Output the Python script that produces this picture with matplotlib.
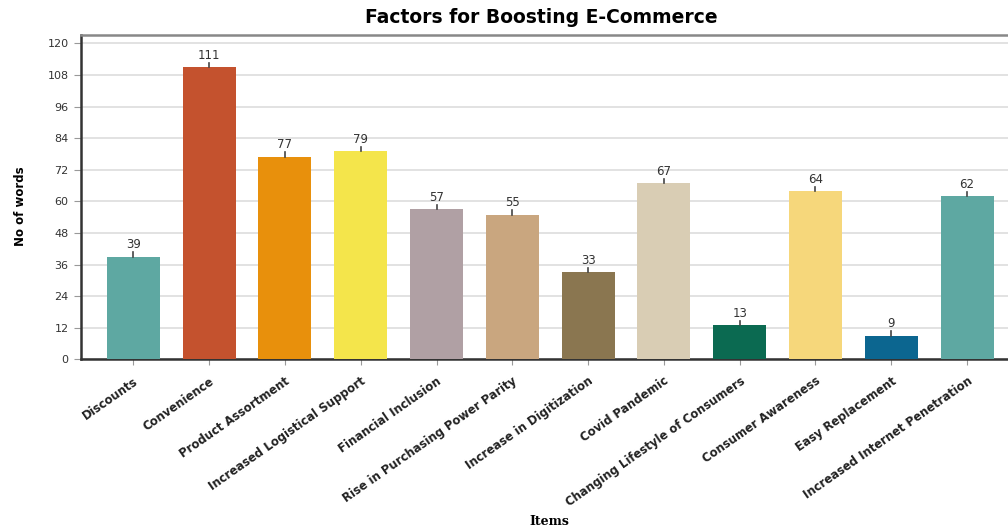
import matplotlib.pyplot as plt

# Word counts per factor
items = ["Discounts", "Convenience", "Product Assortment", "Increased Logistical Support",
         "Financial Inclusion", "Rise in Purchasing Power Parity", "Increase in Digitization",
         "Covid Pandemic", "Changing Lifestyle of Consumers", "Consumer Awareness",
         "Easy Replacement", "Increased Internet Penetration"]
counts = [39, 111, 77, 79, 57, 55, 33, 67, 13, 64, 9, 62]
colors = ["#5ea8a2", "#c4522e", "#e8900c", "#f4e54b", "#b0a0a4", "#c9a67f",
          "#8a7650", "#d9cdb4", "#0b6a51", "#f6d77b", "#0c6690", "#5ea8a2"]
yticks = list(range(0, 121, 12))

fig = plt.figure(figsize=(10.08, 5.29), dpi=100)
ax = fig.add_axes([0.0804, 0.3208, 0.9196, 0.6130])

x = list(range(len(items)))
ax.bar(x, counts, width=0.70, color=colors, zorder=3)

# little stem + value above each bar
for xi, c in zip(x, counts):
    ax.plot([xi, xi], [c, c + 1.6], color="#444444", lw=1.2, zorder=4)
    ax.text(xi, c + 2.0, str(c), ha="center", va="bottom", fontsize=8.5,
            color="#333333", zorder=5)

ax.set_xlim(-0.69, 11.54)
ax.set_ylim(0, 123.2)
ax.set_yticks(yticks)
ax.yaxis.grid(True, color="#dddddd", lw=1.2, zorder=0)
ax.set_axisbelow(True)

ax.set_xticks(x)
ax.set_xticklabels(items, rotation=35, ha="right", rotation_mode="anchor",
                   fontsize=8.4, fontweight="bold", color="#222222")
ax.tick_params(axis="x", length=4, color="#999999", pad=7)
ax.tick_params(axis="y", length=5, color="#999999", labelsize=8, labelcolor="#333333", pad=4)

ax.spines["right"].set_visible(False)
ax.spines["top"].set_color("#888888")
ax.spines["top"].set_linewidth(1.8)
ax.spines["left"].set_color("#333333")
ax.spines["left"].set_linewidth(1.8)
ax.spines["bottom"].set_color("#333333")
ax.spines["bottom"].set_linewidth(1.8)

fig.text(0.537, 0.966, "Factors for Boosting E-Commerce", ha="center", va="center",
         fontsize=13.5, fontweight="bold")
fig.text(0.020, 0.61, "No of words", ha="center", va="center", rotation=90,
         fontsize=8.5, fontweight="bold")
fig.text(0.545, 0.015, "Items", ha="center", va="center", fontsize=9,
         fontweight="bold", family=["DejaVu Serif"])

fig.savefig("out.png", dpi=100)
